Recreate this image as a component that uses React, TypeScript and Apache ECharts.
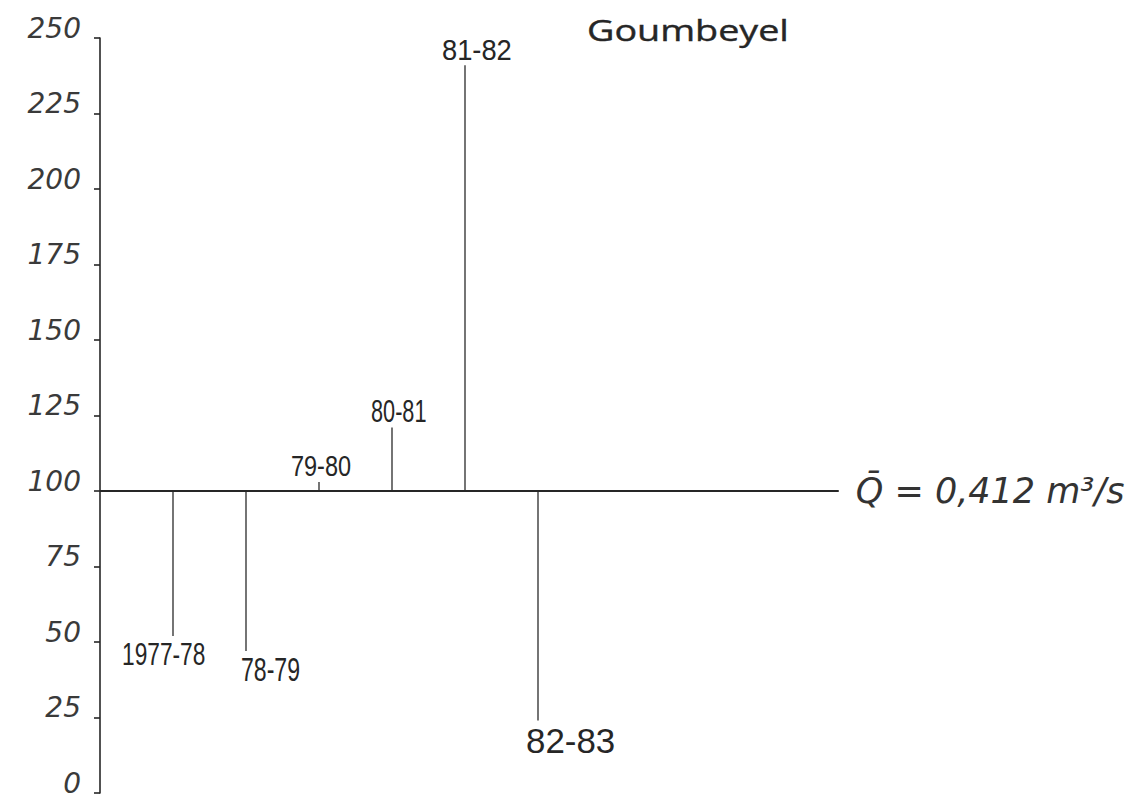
import React, { useEffect, useRef } from "react";
import * as echarts from "echarts";

// ---- data ----
const periods = ["1977-78", "78-79", "79-80", "80-81", "81-82", "82-83"];
const periodPositions = [1, 2, 3, 4, 5, 6];
const values = [52, 47, 103, 121, 241, 24];
const meanValue = 100;
const meanLineEnd = 10.12;
const yTicks = [0, 25, 50, 75, 100, 125, 150, 175, 200, 225, 250];
const titleText = "Goumbeyel";
const meanLabel = "Q̄ = 0,412 m³/s";

// ---- styling (label offsets in px relative to each stem end) ----
const labelDx = [-51, -5, -28, -21, -23, -12];
const labelFont = [32, 33, 29, 31, 30, 36];
const labelScaleX = [0.71, 0.7, 0.81, 0.7, 0.91, 0.97];

const ink = "#262626";
const stemInk = "#3a3a3a";

export default function App() {
  const ref = useRef<HTMLDivElement>(null);
  useEffect(() => {
    if (!ref.current) return;
    const chart = echarts.init(ref.current, null, { renderer: "svg" });
    const stemData = periods.map((p, i) => [periodPositions[i], values[i], i]);
    chart.setOption({
      animation: false,
      backgroundColor: "#ffffff",
      grid: { left: 92, right: 9, top: 30, bottom: 12 },
      xAxis: {
        type: "value",
        min: 0,
        max: 14,
        show: false,
      },
      yAxis: {
        type: "value",
        min: yTicks[0],
        max: yTicks[yTicks.length - 1],
        interval: 25,
        axisLine: { show: true, lineStyle: { color: ink, width: 1.6 } },
        axisTick: { show: true, length: 6, lineStyle: { color: ink, width: 1.6 } },
        axisLabel: {
          color: "#3a3a3a",
          fontSize: 28,
          fontStyle: "italic",
          fontFamily: "DejaVu Sans",
          margin: 19,
          verticalAlign: "bottom",
          lineHeight: 20,
        },
        splitLine: { show: false },
      },
      graphic: [
        {
          type: "text",
          x: 579,
          y: 22,
          scaleX: 1.3,
          style: {
            text: titleText,
            fill: ink,
            fontSize: 29,
            fontFamily: "Open Sans",
            textAlign: "left",
            textVerticalAlign: "middle",
            stroke: ink,
            lineWidth: 0.4,
          },
        },
      ],
      series: [
        {
          type: "line",
          data: [
            [0, meanValue],
            [meanLineEnd, meanValue],
          ],
          symbol: "none",
          lineStyle: { color: ink, width: 2.2 },
          silent: true,
          endLabel: {
            show: true,
            formatter: meanLabel,
            color: "#333",
            fontSize: 35,
            fontStyle: "italic",
            fontFamily: "DejaVu Sans",
            distance: 17,
          },
        },
        {
          type: "custom",
          data: stemData,
          renderItem: (params: any, api: any) => {
            const x = api.value(0);
            const v = api.value(1);
            const i = api.value(2);
            const base = api.coord([x, meanValue]);
            const end = api.coord([x, v]);
            const above = v >= meanValue;
            return {
              type: "group",
              children: [
                {
                  type: "line",
                  shape: { x1: base[0], y1: base[1], x2: end[0], y2: end[1] },
                  style: { stroke: stemInk, lineWidth: 1.4 },
                },
                {
                  type: "text",
                  x: end[0] + labelDx[i],
                  y: above ? end[1] - 1 : end[1] + 2,
                  scaleX: labelScaleX[i],
                  style: {
                    text: periods[i],
                    fill: ink,
                    fontSize: labelFont[i],
                    fontFamily: "Liberation Sans",
                    textAlign: "left",
                    textVerticalAlign: above ? "bottom" : "top",
                  },
                },
              ],
            };
          },
        },
      ],
    });
    return () => chart.dispose();
  }, []);
  return <div ref={ref} style={{ width: 1123, height: 797 }} />;
}
